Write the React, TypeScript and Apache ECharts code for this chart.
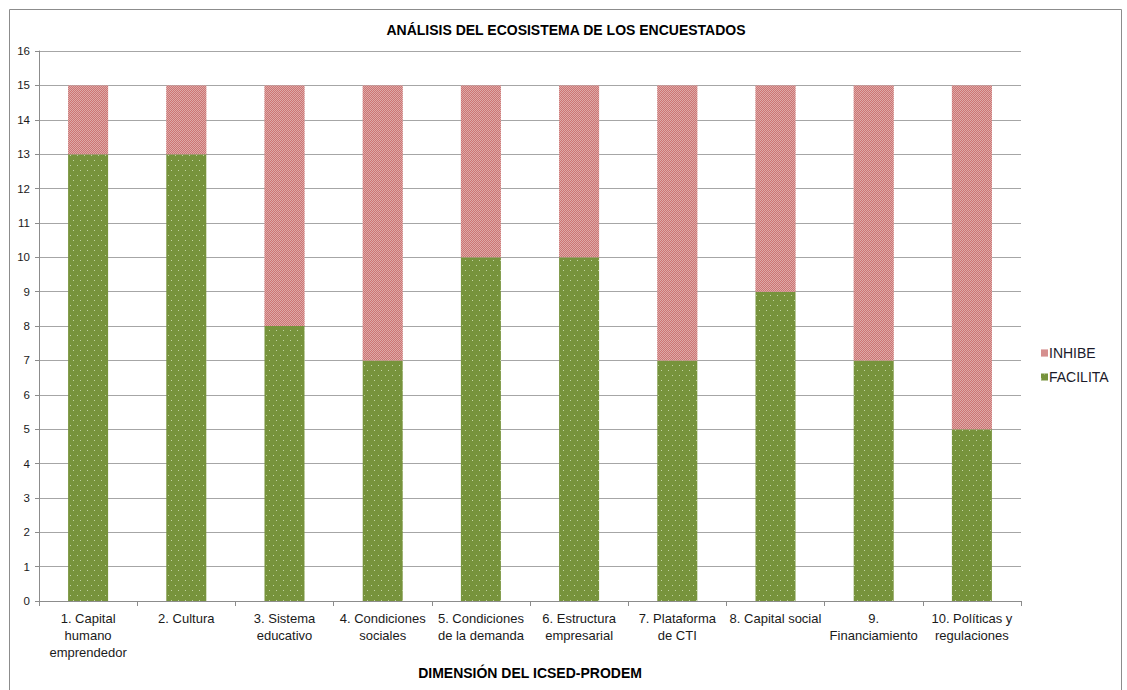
import React, { useEffect, useRef } from "react";
import * as echarts from "echarts";

const categories = [
  "1. Capital\nhumano\nemprendedor",
  "2. Cultura",
  "3. Sistema\neducativo",
  "4. Condiciones\nsociales",
  "5. Condiciones\nde la demanda",
  "6. Estructura\nempresarial",
  "7. Plataforma\nde CTI",
  "8. Capital social",
  "9.\nFinanciamiento",
  "10. Políticas y\nregulaciones",
];
const facilita = [13, 13, 8, 7, 10, 10, 7, 9, 7, 5];
const inhibe = [2, 2, 7, 8, 5, 5, 8, 6, 8, 10];

const FONT = "'Liberation Sans', Arial, sans-serif";

export default function App() {
  const ref = useRef<HTMLDivElement>(null);
  useEffect(() => {
    if (!ref.current) return;
    const chart = echarts.init(ref.current, null, { renderer: "svg" });
    chart.setOption({
      animation: false,
      backgroundColor: "#fff",
      textStyle: { fontFamily: FONT },
      title: {
        text: "ANÁLISIS DEL ECOSISTEMA DE LOS ENCUESTADOS",
        left: 561,
        textAlign: "center",
        top: 18,
        textStyle: { fontFamily: FONT, fontSize: 14, fontWeight: "bold", color: "#000" },
      },
      graphic: [
        {
          type: "rect",
          shape: { x: 9.5, y: 9.5, width: 1112, height: 700 },
          style: { fill: "none", stroke: "#8c8c8c", lineWidth: 1 },
          silent: true,
        },
      ],
      legend: {
        orient: "vertical",
        left: 1036,
        top: 341,
        itemGap: 10,
        itemWidth: 7,
        itemHeight: 7,
        icon: "rect",
        data: ["INHIBE", "FACILITA"],
        textStyle: { fontFamily: FONT, fontSize: 14, color: "#1a1a2a", padding: [0, 0, 0, -4] },
      },
      grid: { left: 39, right: 106, top: 51, bottom: 89 },
      xAxis: {
        type: "category",
        data: categories,
        name: "DIMENSIÓN DEL ICSED-PRODEM",
        nameLocation: "middle",
        nameGap: 65,
        nameTextStyle: { fontFamily: FONT, fontSize: 14, fontWeight: "bold", color: "#000" },
        axisLine: { lineStyle: { color: "#8c8c8c" } },
        axisTick: { show: true, length: 5, lineStyle: { color: "#8c8c8c" } },
        axisLabel: {
          interval: 0,
          fontFamily: FONT,
          fontSize: 13,
          lineHeight: 17,
          color: "#1a1a1a",
          margin: 9,
        },
      },
      yAxis: {
        type: "value",
        min: 0,
        max: 16,
        interval: 1,
        axisLine: { show: true, lineStyle: { color: "#8c8c8c" } },
        axisTick: { show: true, length: 4, lineStyle: { color: "#8c8c8c" } },
        splitLine: { lineStyle: { color: "#a6a6a6" } },
        axisLabel: { fontFamily: FONT, fontSize: 11.5, color: "#1a1a1a", margin: 9 },
      },
      series: [
        {
          name: "FACILITA",
          type: "bar",
          stack: "total",
          barWidth: 40,
          data: facilita,
          itemStyle: {
            color: "#77933C",
            decal: {
              symbol: "rect",
              symbolSize: 1,
              color: "rgba(225,240,205,0.7)",
              dashArrayX: [[1, 6], [0, 3, 1, 3]],
              dashArrayY: [1, 4],
              backgroundColor: "#77933C",
            },
          },
        },
        {
          name: "INHIBE",
          type: "bar",
          stack: "total",
          barWidth: 40,
          data: inhibe,
          itemStyle: {
            color: "#DDA9A8",
            decal: {
              symbol: "rect",
              symbolSize: 1,
              color: "#CD7573",
              dashArrayX: [[1, 1], [0, 1, 1, 0]],
              dashArrayY: [1, 0],
              backgroundColor: "#F6E4E4",
            },
          },
        },
      ],
    });
    return () => chart.dispose();
  }, []);
  return (
    <div
      ref={ref}
      style={{ position: "absolute", left: 0, top: 0, width: 1127, height: 690 }}
    />
  );
}
